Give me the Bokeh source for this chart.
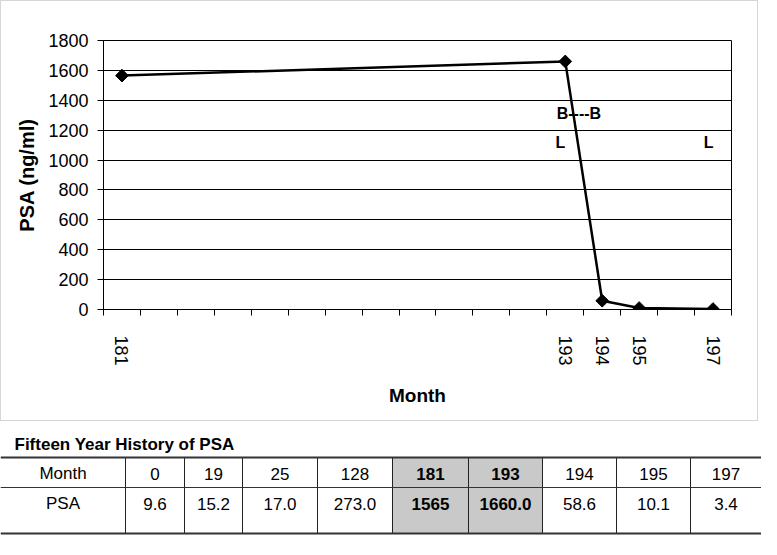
import math
from bokeh.plotting import figure
from bokeh.models import Range1d, FixedTicker, SingleIntervalTicker, ColumnDataSource
from bokeh.core.properties import value
from bokeh.embed import file_html
from bokeh.resources import INLINE

# ---- data ----
table_months = [0, 19, 25, 128, 181, 193, 194, 195, 197]
table_psa = [9.6, 15.2, 17.0, 273.0, 1565, 1660.0, 58.6, 10.1, 3.4]
table_psa_labels = ["9.6", "15.2", "17.0", "273.0", "1565", "1660.0", "58.6", "10.1", "3.4"]
highlight = [181, 193]

chart_months = table_months[4:]
chart_psa = table_psa[4:]

note_text = ["B----B", "L", "L"]
note_x = [193.37, 192.87, 196.88]
note_y = [1310, 1115, 1115]

FONT = "Liberation Sans"

# ---- chart ----
p = figure(width=758, height=421, output_backend="svg", toolbar_location=None,
           x_range=Range1d(180.5, 197.5), y_range=Range1d(0, 1800),
           min_border_left=102, min_border_right=28, min_border_top=39, min_border_bottom=113,
           background_fill_color="white", border_fill_color="white",
           styles={"border": "1px solid #d6d6d6"})
p.outline_line_color = "black"
p.outline_line_width = 1

p.xgrid.visible = False
p.ygrid.grid_line_color = "black"
p.ygrid.grid_line_width = 1
p.ygrid.ticker = SingleIntervalTicker(interval=200)

p.yaxis.ticker = SingleIntervalTicker(interval=200, num_minor_ticks=0)
p.yaxis.axis_label = "PSA (ng/ml)"
p.yaxis.axis_label_text_font = FONT
p.yaxis.axis_label_text_font_style = "bold"
p.yaxis.axis_label_text_font_size = "20px"
p.yaxis.axis_label_text_color = "black"
p.yaxis.axis_label_standoff = 7
p.yaxis.major_label_text_font = FONT
p.yaxis.major_label_text_font_size = "18px"
p.yaxis.major_label_text_color = "black"
p.yaxis.major_label_standoff = 9
p.yaxis.major_tick_out = 6
p.yaxis.major_tick_in = 0
p.yaxis.minor_tick_line_color = None
p.yaxis.axis_line_color = "black"
p.yaxis.major_tick_line_color = "black"

minor = [180.5 + i for i in range(18)]
p.xaxis.ticker = FixedTicker(ticks=chart_months, minor_ticks=minor)
p.xaxis.axis_label = "Month"
p.xaxis.axis_label_text_font = FONT
p.xaxis.axis_label_text_font_style = "bold"
p.xaxis.axis_label_text_font_size = "19px"
p.xaxis.axis_label_text_color = "black"
p.xaxis.axis_label_standoff = 16
p.xaxis.major_label_text_font = FONT
p.xaxis.major_label_text_font_size = "18px"
p.xaxis.major_label_text_color = "black"
p.xaxis.major_label_orientation = "vertical"
p.xaxis.major_label_standoff = 20
p.xaxis.major_tick_out = 0
p.xaxis.major_tick_in = 0
p.xaxis.minor_tick_out = 6
p.xaxis.minor_tick_in = 0
p.xaxis.minor_tick_line_color = "black"
p.xaxis.axis_line_color = "black"

src = ColumnDataSource(dict(x=chart_months, y=chart_psa))
p.line("x", "y", source=src, line_color="black", line_width=2.5)
p.scatter("x", "y", source=src, marker="square", angle=math.pi / 4, size=9,
          fill_color="black", line_color="black", line_width=1)

nsrc = ColumnDataSource(dict(x=note_x, y=note_y, t=note_text))
p.text("x", "y", text="t", source=nsrc, text_font=value(FONT), text_font_style="bold",
       text_font_size="16px", text_align="center", text_baseline="middle", text_color="black")

# ---- table ----
col_edges = [0, 125, 184, 242, 317, 392, 468, 542, 616, 690, 761]
T_W = 761
T_H = 116
t = figure(width=T_W, height=T_H, output_backend="svg", toolbar_location=None,
           x_range=Range1d(0, T_W), y_range=Range1d(T_H, 0),
           min_border=0, min_border_left=0, min_border_right=0, min_border_top=0, min_border_bottom=0,
           outline_line_color=None, background_fill_color="white", border_fill_color="white")
t.axis.visible = False
t.grid.visible = False

top_y, mid_y, bot_y = 36, 66, 112
hdr_y, val_y = 52, 82

hl_left = [col_edges[i + 1] for i, m in enumerate(table_months) if m in highlight]
hl_right = [col_edges[i + 2] for i, m in enumerate(table_months) if m in highlight]
t.quad(left=hl_left, right=hl_right, top=[top_y] * len(hl_left), bottom=[bot_y] * len(hl_left),
       fill_color="#c9c9c9", line_color=None)

vx = col_edges[1:-1]
t.segment(x0=vx, x1=vx, y0=[top_y] * len(vx), y1=[bot_y] * len(vx), line_color="#222222", line_width=1)
t.segment(x0=[0, 0, 0], x1=[T_W] * 3, y0=[top_y, mid_y, bot_y], y1=[top_y, mid_y, bot_y],
          line_color="#333333", line_width=[2, 1, 2])

centers = [(col_edges[i] + col_edges[i + 1]) / 2 for i in range(len(col_edges) - 1)]
bold = ["normal"] + ["bold" if m in highlight else "normal" for m in table_months]
hdr_text = ["Month"] + [str(m) for m in table_months]
val_text = ["PSA"] + table_psa_labels
tsrc = ColumnDataSource(dict(x=centers + centers, y=[hdr_y] * len(centers) + [val_y] * len(centers),
                             t=hdr_text + val_text, s=bold + bold))
t.text("x", "y", text="t", source=tsrc, text_font=value(FONT), text_font_style="s",
       text_font_size="17px", text_align="center", text_baseline="middle", text_color="black")

t.text(x=[14], y=[23], text=["Fifteen Year History of PSA"], text_font=value(FONT),
       text_font_style="bold", text_font_size="17px", text_align="left", text_baseline="middle",
       text_color="black")

open("out.html", "w").write(file_html([p, t], INLINE))
